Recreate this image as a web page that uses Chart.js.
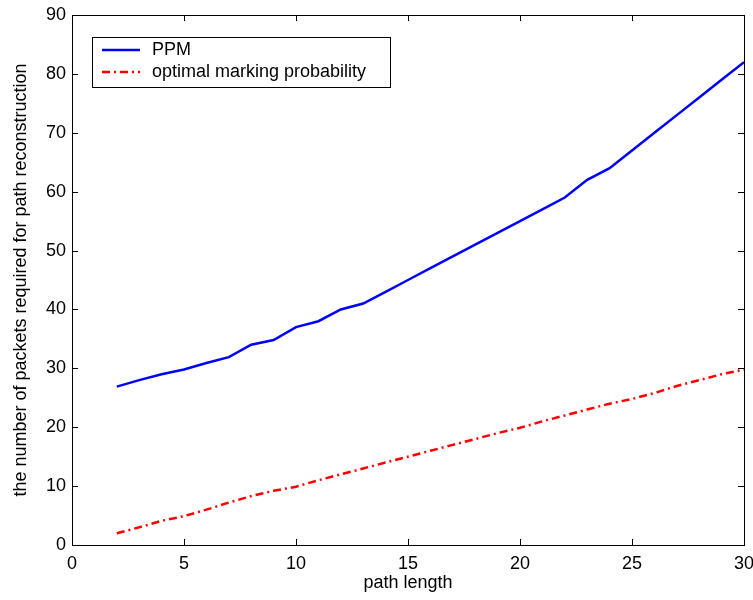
<!DOCTYPE html>
<html lang="en">
<head>
<meta charset="UTF-8">
<title>Packets required for path reconstruction</title>
<script src="https://cdn.jsdelivr.net/npm/chart.js"></script>
<style>
    body { margin: 0; background: #fff; }
    canvas { display: block; }
</style>
</head>
<body>
<canvas id="chart" width="753" height="600"></canvas>
<script>
    // values
    const pathLength = [2, 3, 4, 5, 6, 7, 8, 9, 10, 11, 12, 13, 14, 15, 16, 17, 18, 19, 20, 21, 22, 23, 24, 25, 26, 27, 28, 29, 30];
    const ppmPackets = [26.9, 28, 29, 29.8, 30.9, 31.9, 34, 34.8, 37, 38, 40, 41, 43, 45, 47, 49, 51, 53, 55, 57, 59, 62, 64, 67, 70, 73, 76, 79, 82];
    const optimalPackets = [2, 3, 4.1, 4.9, 6, 7.2, 8.3, 9.2, 9.9, 11, 12, 13, 14, 15, 16, 17, 18, 19, 19.9, 21, 22, 23, 24, 24.8, 25.8, 27, 28, 29, 29.8];
    const xTicks = [0, 5, 10, 15, 20, 25, 30];
    const yTicks = [0, 10, 20, 30, 40, 50, 60, 70, 80, 90];

    const FONT = { family: "'Liberation Sans', Arial, sans-serif", size: 18 };

    // box around the axes, inward tick marks and the boxed legend
    const matlabBox = {
        id: 'matlabBox',
        afterDatasetsDraw(chart) {
            const { ctx, chartArea: a, scales: { x, y } } = chart;
            ctx.save();
            ctx.strokeStyle = '#000';
            ctx.lineWidth = 1;
            ctx.strokeRect(a.left + 0.5, a.top + 0.5, a.right - a.left, a.bottom - a.top);

            ctx.beginPath();
            xTicks.forEach(v => {
                const px = Math.round(x.getPixelForValue(v)) + 0.5;
                ctx.moveTo(px, a.bottom); ctx.lineTo(px, a.bottom - 6);
                ctx.moveTo(px, a.top); ctx.lineTo(px, a.top + 6);
            });
            yTicks.forEach(v => {
                const py = Math.round(y.getPixelForValue(v)) + 0.5;
                ctx.moveTo(a.left, py); ctx.lineTo(a.left + 6, py);
                ctx.moveTo(a.right, py); ctx.lineTo(a.right - 6, py);
            });
            ctx.stroke();

            // legend
            const lx = 92, ly = 37, lw = 298, lh = 50;
            ctx.fillStyle = '#fff';
            ctx.fillRect(lx, ly, lw, lh);
            ctx.strokeRect(lx + 0.5, ly + 0.5, lw, lh);
            ctx.font = FONT.size + 'px ' + FONT.family;
            ctx.textBaseline = 'middle';
            chart.data.datasets.forEach((ds, i) => {
                const rowY = ly + 13 + i * 22;
                ctx.strokeStyle = ds.borderColor;
                ctx.lineWidth = ds.borderWidth;
                ctx.setLineDash(ds.borderDash || []);
                ctx.beginPath();
                ctx.moveTo(102, rowY);
                ctx.lineTo(140, rowY);
                ctx.stroke();
                ctx.setLineDash([]);
                ctx.fillStyle = '#000';
                ctx.fillText(ds.label, 152, rowY);
            });
            ctx.restore();
        }
    };

    const ctx = document.getElementById('chart').getContext('2d');
    new Chart(ctx, {
        type: 'line',
        data: {
            labels: pathLength,
            datasets: [{
                label: 'PPM',
                data: ppmPackets,
                borderColor: '#0000ff',
                borderWidth: 2.5,
                pointRadius: 0,
                tension: 0
            }, {
                label: 'optimal marking probability',
                data: optimalPackets,
                borderColor: '#ff0000',
                borderWidth: 2.5,
                borderDash: [8, 4, 2, 4],
                pointRadius: 0,
                tension: 0
            }]
        },
        options: {
            responsive: false,
            animation: false,
            events: [],
            layout: { padding: { top: 15, right: 9, left: 0, bottom: 0 } },
            plugins: {
                legend: { display: false },
                tooltip: { enabled: false }
            },
            scales: {
                x: {
                    type: 'linear',
                    min: 0,
                    max: 30,
                    afterBuildTicks: s => { s.ticks = xTicks.map(v => ({ value: v })); },
                    // the "30" label is allowed to run off the right edge, as in the figure
                    afterFit: s => { s.height = 55; s.paddingRight = 0; s.paddingLeft = 0; },
                    grid: { display: false, drawTicks: false },
                    border: { display: true, color: '#000', width: 1 },
                    ticks: { color: '#000', font: FONT, padding: 8, maxRotation: 0 },
                    title: { display: true, text: 'path length', color: '#000', font: FONT, padding: { top: 0, bottom: 6 } }
                },
                y: {
                    min: 0,
                    max: 90,
                    afterBuildTicks: s => { s.ticks = yTicks.map(v => ({ value: v })); },
                    afterFit: s => { s.width = 72; s.paddingTop = 0; s.paddingBottom = 0; },
                    grid: { display: false, drawTicks: false },
                    border: { display: true, color: '#000', width: 1 },
                    ticks: { color: '#000', font: FONT, padding: 6 },
                    title: { display: true, text: 'the number of packets required for path reconstruction', color: '#000', font: FONT, padding: { top: 10, bottom: 0 } }
                }
            }
        },
        plugins: [matlabBox]
    });
</script>
</body>
</html>
